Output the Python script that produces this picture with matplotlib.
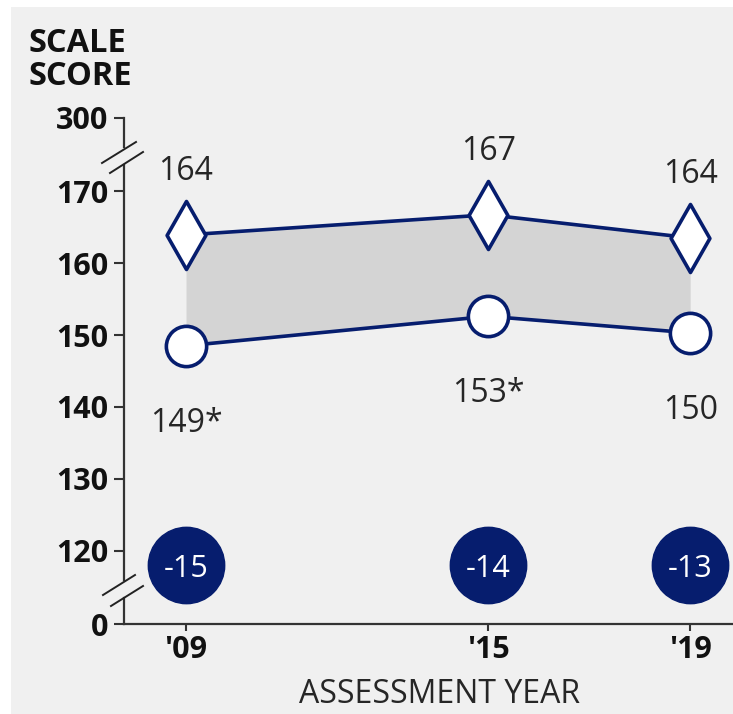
import matplotlib.pyplot as plt
from matplotlib.path import Path
from matplotlib.patches import Rectangle
from matplotlib.lines import Line2D

plt.rcParams['font.family'] = ['Open Sans', 'DejaVu Sans']

years = [2009, 2015, 2019]
year_labels = ["'09", "'15", "'19"]
upper = [163.9, 166.7, 163.5]
upper_labels = ['164', '167', '164']
lower = [148.5, 152.6, 150.3]
lower_labels = ['149*', '153*', '150']
gaps = ['-15', '-14', '-13']
ytick_vals = [109.86, 120, 130, 140, 150, 160, 170, 180.14]
ytick_labels = ['0', '120', '130', '140', '150', '160', '170', '300']

navy = '#061d6e'
txt = '#262626'
W, H = 733, 714

fig = plt.figure(figsize=(W / 100, H / 100), dpi=100, facecolor='white')
fig.add_artist(Rectangle((11 / W, 0), 1, 1 - 7 / H, transform=fig.transFigure,
                         facecolor='#f0f0f0', edgecolor='none', zorder=0))

def px(x, y):
    return x / W, 1 - y / H

ax = fig.add_axes([124 / W, 1 - 624 / H, 1 - 124 / W, (624 - 100) / H])
ax.set_facecolor('none')
ax.set_xlim(2007.77, 2019.85)
ax.set_ylim(109.86, 182.64)

ax.fill_between(years, lower, upper, color='#d4d4d4', lw=0, zorder=1)
ax.plot(years, upper, color=navy, lw=2.6, zorder=2)
ax.plot(years, lower, color=navy, lw=2.6, zorder=2)

diamond = Path([(0, 1), (0.57, 0), (0, -1), (-0.57, 0), (0, 1)],
               [Path.MOVETO, Path.LINETO, Path.LINETO, Path.LINETO, Path.CLOSEPOLY])
ax.plot(years, upper, ls='none', marker=diamond, ms=49, mfc='white', mec=navy, mew=2.6, zorder=3)
ax.plot(years, lower, ls='none', marker='o', ms=29, mfc='white', mec=navy, mew=2.6, zorder=3)

for x, y, s in zip(years, upper, upper_labels):
    ax.annotate(s, (x, y), xytext=(0, 39.5), textcoords='offset points', ha='center',
                va='baseline', fontsize=23, color=txt)
for x, y, s in zip(years, lower, lower_labels):
    ax.annotate(s, (x, y), xytext=(0, -62), textcoords='offset points', ha='center',
                va='baseline', fontsize=23, color=txt)

# gap badges
ax.plot(years, [118.05] * 3, ls='none', marker='o', ms=55, mfc=navy, mec=navy, zorder=3, clip_on=False)
for x, s in zip(years, gaps):
    ax.text(x, 118.05, s, ha='center', va='center_baseline', fontsize=22, color='white', zorder=4)

# axes styling
for sp in ['top', 'right', 'left']:
    ax.spines[sp].set_visible(False)
ax.spines['bottom'].set_color('#333333')
ax.spines['bottom'].set_linewidth(1.6)

ax.set_yticks(ytick_vals)
ax.set_yticklabels(ytick_labels, fontweight='bold', fontsize=22, color='#111111')
ax.set_xticks(years)
ax.set_xticklabels(year_labels, fontweight='bold', fontsize=22, color='#111111')
ax.tick_params(axis='y', length=7, width=1.5, color='#333333', pad=4)
ax.tick_params(axis='x', length=5, width=1.5, color='#333333', pad=3)

# broken left axis
def fy(y):
    return 1 - y / H
for y0, y1 in [(118, 147), (165, 580), (598, 624)]:
    fig.add_artist(Line2D([124 / W, 124 / W], [fy(y0), fy(y1)], color='#333333', lw=1.6))
for (x0, y0), (x1, y1) in [((102, 163), (136, 142)), ((110, 173), (143, 152)),
                           ((103, 595), (135, 575)), ((111, 606), (143, 586))]:
    a, b = px(x0, y0)
    c, d = px(x1, y1)
    fig.add_artist(Line2D([a, c], [b, d], color='#222222', lw=1.4))

fig.text(28 / W, fy(85), 'SCALE\nSCORE', fontsize=23.5, fontweight='bold', color='#111111',
         ha='left', va='baseline', linespacing=1.0)
fig.text(440 / W, fy(703), 'ASSESSMENT YEAR', fontsize=23, color=txt, ha='center', va='baseline')

fig.savefig('out.png', dpi=100, facecolor='white')
